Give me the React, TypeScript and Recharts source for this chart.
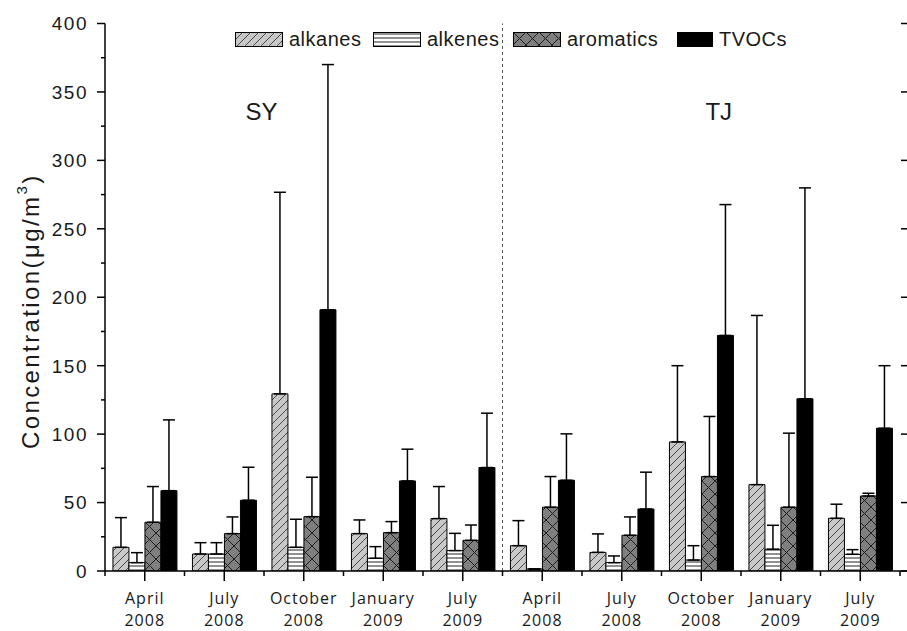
import {
  Bar,
  BarChart,
  ErrorBar,
  Legend,
  ReferenceDot,
  ReferenceLine,
  XAxis,
  YAxis,
} from "recharts";

// sampling campaigns, SY site first then TJ
const months = ["April", "July", "October", "January", "July", "April", "July", "October", "January", "July"];
const years = ["2008", "2008", "2008", "2009", "2009", "2008", "2008", "2008", "2009", "2009"];

// mean concentrations (µg/m³)
const alkanes = [17.3, 12.4, 129.4, 27.3, 38.3, 18.5, 13.6, 94.3, 63.1, 38.5];
const alkenes = [6.1, 12.4, 17.3, 9.3, 14.9, 1.5, 6.1, 8.0, 15.9, 12.2];
const aromatics = [35.6, 27.3, 39.7, 28.0, 22.4, 46.6, 26.1, 69.0, 46.6, 54.8];
const tvocs = [58.7, 51.7, 190.9, 65.8, 75.6, 66.3, 45.3, 172.1, 125.8, 104.3];

// standard deviations (upper whisker only)
const alkanesSd = [21.7, 8.3, 147.3, 10.0, 23.4, 18.3, 13.5, 55.7, 123.6, 10.3];
const alkenesSd = [7.3, 8.3, 20.5, 8.5, 12.6, 0, 4.9, 10.5, 17.5, 3.4];
const aromaticsSd = [26.1, 12.2, 28.8, 8.1, 11.2, 22.4, 13.4, 43.9, 54.1, 2.0];
const tvocsSd = [51.7, 24.1, 179.1, 23.2, 39.7, 33.9, 26.9, 95.6, 154.1, 45.7];

const yTicks = [0, 25, 50, 75, 100, 125, 150, 175, 200, 225, 250, 275, 300, 325, 350, 375, 400];

const data = months.map((m, i) => ({
  key: `${m}-${years[i]}-${i}`,
  slot: i,
  alkanes: alkanes[i],
  alkenes: alkenes[i],
  aromatics: aromatics[i],
  TVOCs: tvocs[i],
  alkanesErr: [0, alkanesSd[i]],
  alkenesErr: [0, alkenesSd[i]],
  aromaticsErr: [0, aromaticsSd[i]],
  tvocsErr: [0, tvocsSd[i]],
}));

const FONT = "'Liberation Sans', Arial, sans-serif";
const CHART_W = 922;
const LEFT_W = 105;
const RIGHT_M = 12;
const PAD_R = 10;
const PLOT_W = CHART_W - LEFT_W - RIGHT_M;
const BAND = (PLOT_W - PAD_R) / months.length;
const TICK_SIZE = 8;
const TICK_GAP = 9;
const X_TICK = 10;
const X_GAP = 2;

const legendItems = [
  { name: "alkanes", fill: "url(#pAlkanes)", w: 138 },
  { name: "alkenes", fill: "url(#pAlkenes)", w: 140 },
  { name: "aromatics", fill: "url(#pAromatics)", w: 164 },
  { name: "TVOCs", fill: "#000", w: 110 },
];

function ConcTick(props: any) {
  const { x, y, payload } = props;
  const v = payload.value;
  const major = v % 50 === 0;
  const axisX = x + TICK_SIZE + TICK_GAP;
  // right-hand axis sits just past the crop, only its inward ticks show
  const rightX = axisX + PLOT_W - 3;
  return (
    <g>
      <line x1={axisX - (major ? 8 : 4)} x2={axisX} y1={y} y2={y} stroke="#000" strokeWidth={1.5} />
      {major && <line x1={rightX - 6} x2={rightX} y1={y} y2={y} stroke="#000" strokeWidth={1.5} />}
      {major && (
        <text x={x} y={y} dy="0.36em" textAnchor="end" fontFamily={FONT} fontSize={19} letterSpacing={1.5} fill="#1a1a1a">
          {v}
        </text>
      )}
    </g>
  );
}

function MonthTick(props: any) {
  const { x, y, index } = props;
  const axisY = y - X_TICK - X_GAP;
  const left = x - BAND / 2;
  return (
    <g>
      <line x1={left} x2={left} y1={axisY} y2={axisY + 5} stroke="#000" strokeWidth={1.5} />
      {index === months.length - 1 && (
        <line x1={left + BAND} x2={left + BAND} y1={axisY} y2={axisY + 5} stroke="#000" strokeWidth={1.5} />
      )}
      <text x={x} y={y} textAnchor="middle" fontFamily="'Open Sans', sans-serif" fontSize={16} letterSpacing={1} fill="#1a1a1a">
        <tspan x={x} dy={21}>{months[index]}</tspan>
        <tspan x={x} dy={21.5}>{years[index]}</tspan>
      </text>
    </g>
  );
}

function YLabel(props: any) {
  const { viewBox } = props;
  const cx = viewBox.x + 30;
  const cy = viewBox.y + viewBox.height / 2 + 14;
  return (
    <text
      x={cx}
      y={cy}
      transform={`rotate(-90, ${cx}, ${cy})`}
      textAnchor="middle"
      dominantBaseline="central"
      fontFamily={FONT}
      fontSize={24}
      letterSpacing={2.4}
      fill="#1a1a1a"
    >
      Concentration(μg/m
      <tspan dy={-9} fontSize={15}>3</tspan>
      <tspan dy={9}>)</tspan>
    </text>
  );
}

function LegendBox() {
  return (
    <div style={{ display: "flex", alignItems: "center", fontFamily: FONT, fontSize: 20, letterSpacing: 0.5, color: "#1a1a1a" }}>
      {legendItems.map((it) => (
        <div key={it.name} style={{ display: "flex", alignItems: "center", width: it.w }}>
          <svg width={48} height={15} style={{ display: "block" }}>
            <rect x={0.5} y={0.5} width={47} height={14} fill={it.fill} stroke="#000" strokeWidth={1} />
          </svg>
          <span style={{ marginLeft: 6, lineHeight: "15px", whiteSpace: "nowrap" }}>{it.name}</span>
        </div>
      ))}
    </div>
  );
}

export default function App() {
  return (
    <div style={{ position: "absolute", left: 0, top: 0, width: 907, height: 631, overflow: "hidden", background: "#fff" }}>
      <BarChart
        width={CHART_W}
        height={631}
        data={data}
        margin={{ top: 23.5, right: RIGHT_M, left: 0, bottom: 0 }}
        barCategoryGap="10%"
        barGap={0}
      >
        <defs>
          <pattern id="pAlkanes" width={8} height={8} patternUnits="userSpaceOnUse">
            <rect width={8} height={8} fill="#c8c8c8" />
            <path d="M-2,2 L2,-2 M0,8 L8,0 M6,10 L10,6" stroke="#4a4a4a" strokeWidth={1} />
          </pattern>
          <pattern id="pAlkenes" width={6} height={4} patternUnits="userSpaceOnUse">
            <rect width={6} height={4} fill="#fff" />
            <line x1={0} x2={6} y1={2} y2={2} stroke="#222" strokeWidth={1} />
          </pattern>
          <pattern id="pAromatics" width={13} height={13} patternUnits="userSpaceOnUse">
            <rect width={13} height={13} fill="#7f7f7f" />
            <path d="M0,0 L13,13 M0,13 L13,0" stroke="#1e1e1e" strokeWidth={1} />
          </pattern>
        </defs>

        <XAxis
          xAxisId="slot"
          dataKey="slot"
          type="number"
          domain={[-0.5, 9.5]}
          height={0}
          padding={{ left: 0, right: PAD_R }}
          axisLine={false}
          tick={false}
          tickLine={false}
          allowDataOverflow
        />
        <XAxis
          xAxisId="cat"
          dataKey="key"
          height={60}
          interval={0}
          padding={{ left: 0, right: PAD_R }}
          axisLine={{ stroke: "#000", strokeWidth: 1.5 }}
          tickLine={{ stroke: "#000", strokeWidth: 1.5 }}
          tickSize={X_TICK}
          tickMargin={X_GAP}
          tick={<MonthTick />}
        />
        <XAxis
          xAxisId="top"
          orientation="top"
          dataKey="slot"
          type="number"
          domain={[-0.5, 9.5]}
          height={0}
          tick={false}
          tickLine={false}
          axisLine={{ stroke: "#000", strokeWidth: 1.5 }}
        />
        <YAxis
          yAxisId="c"
          domain={[0, 400]}
          ticks={yTicks}
          interval={0}
          width={LEFT_W}
          tickSize={TICK_SIZE}
          tickMargin={TICK_GAP}
          tickLine={false}
          axisLine={{ stroke: "#000", strokeWidth: 1.5 }}
          tick={<ConcTick />}
          label={<YLabel />}
          allowDataOverflow
        />

        <Legend
          layout="horizontal"
          verticalAlign="middle"
          align="center"
          content={<LegendBox />}
          wrapperStyle={{ position: "absolute", top: 32, left: 235, width: "auto" }}
        />

        <ReferenceLine xAxisId="slot" yAxisId="c" x={4.5} stroke="#555" strokeDasharray="3 3" strokeWidth={1} />

        <Bar xAxisId="cat" yAxisId="c" dataKey="alkanes" fill="url(#pAlkanes)" stroke="#000" strokeWidth={1} isAnimationActive={false}>
          <ErrorBar dataKey="alkanesErr" width={6} stroke="#000" strokeWidth={1.5} direction="y" />
        </Bar>
        <Bar xAxisId="cat" yAxisId="c" dataKey="alkenes" fill="url(#pAlkenes)" stroke="#000" strokeWidth={1} isAnimationActive={false}>
          <ErrorBar dataKey="alkenesErr" width={6} stroke="#000" strokeWidth={1.5} direction="y" />
        </Bar>
        <Bar xAxisId="cat" yAxisId="c" dataKey="aromatics" fill="url(#pAromatics)" stroke="#000" strokeWidth={1} isAnimationActive={false}>
          <ErrorBar dataKey="aromaticsErr" width={6} stroke="#000" strokeWidth={1.5} direction="y" />
        </Bar>
        <Bar xAxisId="cat" yAxisId="c" dataKey="TVOCs" fill="#000" stroke="#000" strokeWidth={1} isAnimationActive={false}>
          <ErrorBar dataKey="tvocsErr" width={6} stroke="#000" strokeWidth={1.5} direction="y" />
        </Bar>

        <ReferenceDot
          xAxisId="slot"
          yAxisId="c"
          x={1.47}
          y={336}
          r={0}
          stroke="none"
          label={{ value: "SY", position: "center", fontFamily: FONT, fontSize: 24, fill: "#1a1a1a" }}
        />
        <ReferenceDot
          xAxisId="slot"
          yAxisId="c"
          x={7.22}
          y={336}
          r={0}
          stroke="none"
          label={{ value: "TJ", position: "center", fontFamily: FONT, fontSize: 24, fill: "#1a1a1a" }}
        />
      </BarChart>
    </div>
  );
}
